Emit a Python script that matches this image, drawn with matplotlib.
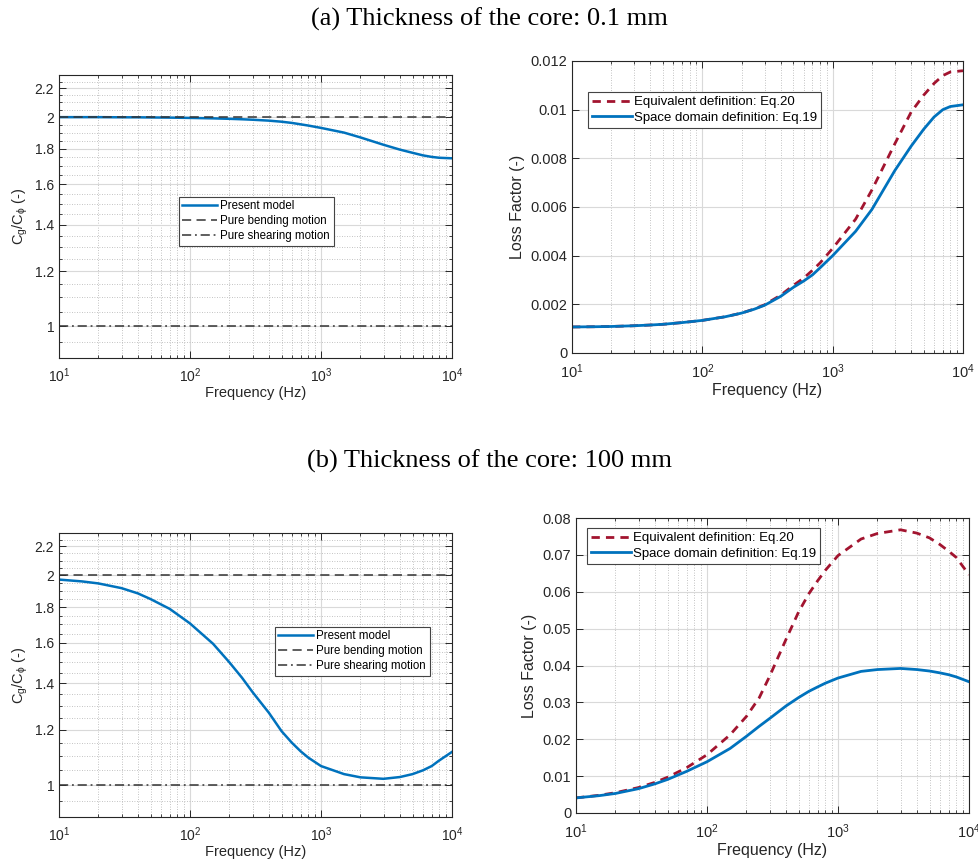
import numpy as np
import matplotlib
matplotlib.use("Agg")
import matplotlib.pyplot as plt
from matplotlib.ticker import (FixedLocator, FixedFormatter, NullFormatter, LogLocator,
                               LogFormatterMathtext, MultipleLocator, FuncFormatter)

plt.rcParams['font.family'] = ['Liberation Sans', 'DejaVu Sans']
plt.rcParams['mathtext.fontset'] = 'custom'
plt.rcParams['mathtext.rm'] = 'Liberation Sans'
plt.rcParams['mathtext.it'] = 'Liberation Sans:italic'
plt.rcParams['mathtext.default'] = 'regular'

# ---------------- data ----------------
freq = [10, 15, 20, 30, 40, 50, 70, 100, 150, 200, 250, 300, 400, 500, 600,
        700, 800, 1000, 1500, 2000, 3000, 4000, 5000, 6000, 7000, 8000, 10000]

# (a) core thickness 0.1 mm
ratio_a = [2.0, 2.0, 2.0, 1.999, 1.999, 1.998, 1.997, 1.995, 1.992, 1.989, 1.986,
           1.983, 1.977, 1.970, 1.962, 1.953, 1.945, 1.930, 1.900, 1.870, 1.825,
           1.796, 1.777, 1.762, 1.753, 1.748, 1.745]
loss_space_a = [0.00107, 0.00108, 0.00109, 0.00112, 0.00115, 0.00118, 0.00125,
                0.00134, 0.00149, 0.00164, 0.00180, 0.00196, 0.00233, 0.0027,
                0.00296, 0.00321, 0.0035, 0.0040, 0.0050, 0.0059, 0.0075,
                0.0085, 0.0092, 0.0097, 0.0100, 0.01013, 0.0102]
loss_equiv_a = [0.00107, 0.00108, 0.00109, 0.00112, 0.00115, 0.00118, 0.00125,
                0.00134, 0.00149, 0.00164, 0.00181, 0.00198, 0.00238, 0.00278,
                0.00308, 0.0034, 0.0037, 0.0043, 0.0055, 0.0067, 0.0086,
                0.0099, 0.0106, 0.01108, 0.0114, 0.01155, 0.0116]

# (b) core thickness 100 mm
ratio_b = [1.972, 1.960, 1.947, 1.917, 1.884, 1.849, 1.790, 1.706, 1.595, 1.500,
           1.425, 1.360, 1.270, 1.195, 1.150, 1.118, 1.095, 1.065, 1.037, 1.026,
           1.021, 1.027, 1.037, 1.050, 1.065, 1.085, 1.116]
loss_space_b = [0.0041, 0.0047, 0.0053, 0.0066, 0.0079, 0.0091, 0.0113, 0.0139,
                0.0175, 0.0208, 0.0235, 0.0256, 0.0290, 0.0313, 0.0330, 0.0342,
                0.0352, 0.0366, 0.0384, 0.0389, 0.0392, 0.0389, 0.0385, 0.0380,
                0.0375, 0.0369, 0.0356]
loss_equiv_b = [0.0041, 0.0048, 0.0055, 0.0069, 0.0083, 0.0097, 0.0123, 0.0158,
                0.0212, 0.0262, 0.0312, 0.0370, 0.0470, 0.0545, 0.0595, 0.0630,
                0.0658, 0.0698, 0.0743, 0.0758, 0.0768, 0.0759, 0.0746, 0.0728,
                0.0710, 0.0693, 0.0646]

bending = 2.0
shearing = 1.0

ratio_ticks = [1, 1.2, 1.4, 1.6, 1.8, 2, 2.2]
ratio_tick_labels = ['1', '1.2', '1.4', '1.6', '1.8', '2', '2.2']

titles = ['(a) Thickness of the core: 0.1 mm', '(b) Thickness of the core: 100 mm']

# ---------------- style ----------------
BLUE = '#0072BD'
RED = '#A2142F'
AXC = '#262626'
W, H = 979, 866
fig = plt.figure(figsize=(W / 100, H / 100), dpi=100)


def frac(l, t, r, b):
    return [l / W, 1 - b / H, (r - l) / W, (b - t) / H]


def style_axes(ax, fs, xpad):
    for s in ax.spines.values():
        s.set_color(AXC)
        s.set_linewidth(0.8)
    ax.tick_params(which='both', direction='in', top=True, right=True,
                   colors=AXC, labelcolor=AXC, labelsize=fs)
    ax.tick_params(which='major', length=5, width=0.7)
    ax.tick_params(which='minor', length=2.5, width=0.6)
    ax.tick_params(axis='x', which='major', pad=xpad)
    ax.set_xscale('log')
    ax.set_xlim(10, 1e4)
    ax.xaxis.set_major_locator(LogLocator(base=10, numticks=10))
    ax.xaxis.set_major_formatter(LogFormatterMathtext())
    ax.xaxis.set_minor_locator(LogLocator(base=10, subs=np.arange(2, 10), numticks=20))
    ax.xaxis.set_minor_formatter(NullFormatter())
    ax.grid(True, which='major', color='#d9d9d9', linewidth=0.8, linestyle='-')
    ax.grid(True, which='minor', axis='x', color='#b0b0b0', linewidth=0.6, linestyle=(0, (1, 2)))
    ax.set_axisbelow(True)


def ratio_panel(rect, y, legpos):
    ax = fig.add_axes(frac(*rect))
    style_axes(ax, 10, 6)
    ax.set_yscale('log')
    ax.set_ylim(0.9, 2.3)
    ax.yaxis.set_major_locator(FixedLocator(ratio_ticks))
    ax.yaxis.set_major_formatter(FixedFormatter(ratio_tick_labels))
    minors = [v for v in np.round(np.arange(0.95, 2.31, 0.05), 2) if v not in ratio_ticks]
    ax.yaxis.set_minor_locator(FixedLocator(minors))
    ax.yaxis.set_minor_formatter(NullFormatter())
    ax.grid(True, which='minor', axis='y', color='#b0b0b0', linewidth=0.6, linestyle=(0, (1, 2)))
    ax.plot(freq, y, color=BLUE, lw=1.8, label='Present model')
    ax.axhline(bending, color='#333333', lw=1.1, ls=(0, (6, 3.5)), label='Pure bending motion')
    ax.axhline(shearing, color='#333333', lw=1.1, ls=(0, (6, 2.5, 1.2, 2.5)), label='Pure shearing motion')
    ax.set_xlabel('Frequency (Hz)', fontsize=10.5, color=AXC, labelpad=1)
    ax.set_ylabel(r'$C_g/C_\phi$ (-)', fontsize=10.5, color=AXC, labelpad=3)
    leg = ax.legend(loc='upper left', bbox_to_anchor=legpos, bbox_transform=fig.transFigure,
                    fontsize=8.3, frameon=True, fancybox=False, edgecolor='#444444',
                    framealpha=1, borderpad=0.3, handlelength=3.0, handletextpad=0.3,
                    labelspacing=0.25, borderaxespad=0)
    leg.get_frame().set_linewidth(0.8)
    return ax


def loss_panel(rect, ys, ye, ymax, step, legpos):
    ax = fig.add_axes(frac(*rect))
    style_axes(ax, 10.5, 7)
    ax.set_ylim(0, ymax)
    ax.yaxis.set_major_locator(MultipleLocator(step))
    ax.yaxis.set_major_formatter(FuncFormatter(lambda v, p: ('%g' % round(v, 6))))
    ax.plot(freq, ye, color=RED, lw=2.0, ls=(0, (3, 2.2)), label='Equivalent definition: Eq.20')
    ax.plot(freq, ys, color=BLUE, lw=2.0, label='Space domain definition: Eq.19')
    ax.set_xlabel('Frequency (Hz)', fontsize=11.5, color=AXC, labelpad=1)
    ax.set_ylabel('Loss Factor (-)', fontsize=11.5, color=AXC, labelpad=4)
    leg = ax.legend(loc='upper left', bbox_to_anchor=legpos, bbox_transform=fig.transFigure,
                    fontsize=9.5, frameon=True, fancybox=False, edgecolor='#444444',
                    framealpha=1, borderpad=0.3, handlelength=3.0, handletextpad=0.2,
                    labelspacing=0.25, borderaxespad=0)
    leg.get_frame().set_linewidth(0.8)
    return ax


ratio_panel((59, 75, 452, 358), ratio_a, (179 / W, 1 - 197 / H))
loss_panel((572, 61, 963, 353), loss_space_a, loss_equiv_a, 0.012, 0.002, (588 / W, 1 - 92 / H))
ratio_panel((59, 533, 452, 817), ratio_b, (275 / W, 1 - 627 / H))
loss_panel((576, 518, 969, 813), loss_space_b, loss_equiv_b, 0.08, 0.01, (587 / W, 1 - 528 / H))

fig.text(0.5, 1 - 19 / H, titles[0], ha='center', va='center', fontsize=19,
         family=['Liberation Serif', 'DejaVu Serif'], color='black')
fig.text(0.5, 1 - 461 / H, titles[1], ha='center', va='center', fontsize=19,
         family=['Liberation Serif', 'DejaVu Serif'], color='black')

fig.savefig('out.png', dpi=100, facecolor='white')
